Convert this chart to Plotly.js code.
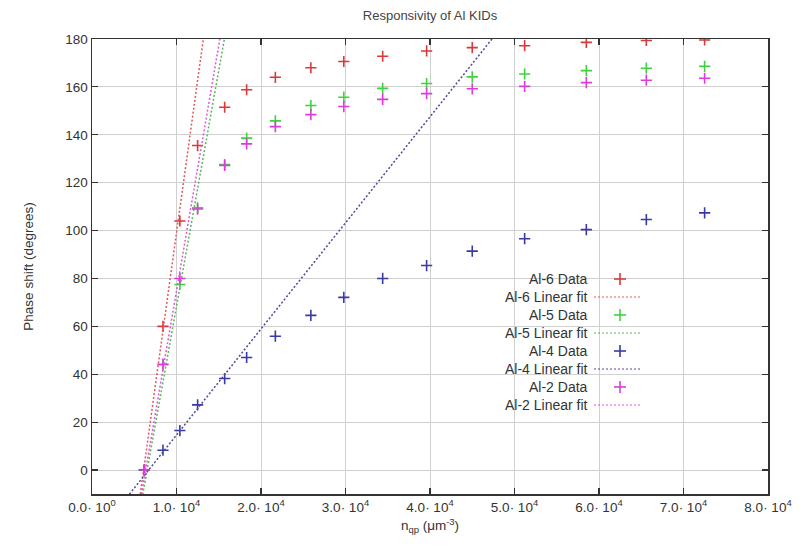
<!DOCTYPE html>
<html>
<head>
<meta charset="utf-8">
<script src="https://cdn.plot.ly/plotly-3.0.1.min.js"></script>
<style>
  html, body { margin: 0; padding: 0; background: #fff; }
  #chart { width: 805px; height: 545px; }
</style>
</head>
<body>
<div id="chart"></div>
<script>
// Quasiparticle density (um^-3) for each measured point
const nqp = [6200, 8400, 10400, 12500, 15700, 18300, 21700, 25900, 29800, 34400, 39600, 45000, 51200, 58500, 65600, 72500];

// Measured phase shift (degrees) per resonator
const al6 = [0, 60, 104, 135.5, 151.5, 158.8, 164, 168, 170.6, 172.8, 175, 176.4, 177.2, 178.6, 179.4, 179.6];
const al5 = [0, 44, 77.5, 109.5, 127.6, 138.6, 145.8, 152.2, 155.7, 159.4, 161.4, 164.2, 165.4, 166.8, 167.8, 168.6];
const al4 = [0, 8.3, 16.5, 27.2, 38.2, 47, 55.9, 64.6, 72.1, 80, 85.4, 91.4, 96.6, 100.4, 104.6, 107.4];
const al2 = [0, 44.2, 80, 109, 127.2, 136.2, 143.4, 148.4, 151.8, 154.8, 157.2, 159.2, 160.2, 161.8, 162.8, 163.6];

// Linear fits: phase = slope * (nqp - zeroCrossing)
const fitSlope = { al6: 0.02547, al5: 0.0197, al4: 0.00443, al2: 0.0205 };
const fitZero  = { al6: 6110,    al5: 6530,   al4: 6700,    al2: 6350 };

// Axis ticks
const xTickVals = [0, 10000, 20000, 30000, 40000, 50000, 60000, 70000, 80000];
const xTickText = ['0.0· 10<sup>0</sup>', '1.0· 10<sup>4</sup>', '2.0· 10<sup>4</sup>', '3.0· 10<sup>4</sup>',
                   '4.0· 10<sup>4</sup>', '5.0· 10<sup>4</sup>', '6.0· 10<sup>4</sup>', '7.0· 10<sup>4</sup>',
                   '8.0· 10<sup>4</sup>'];
const yTickVals = [0, 20, 40, 60, 80, 100, 120, 140, 160, 180];

const seriesNames = ['Al-6', 'Al-5', 'Al-4', 'Al-2'];
const seriesData  = [al6, al5, al4, al2];
const seriesKeys  = ['al6', 'al5', 'al4', 'al2'];
const pointColors = ['#d8393b', '#3fd23f', '#3a3aa6', '#dc3cdc'];
const fitColors   = ['#e0585c', '#58b858', '#4a4a9a', '#dc58dc'];

const xEnds = [0, 80000];
const traces = [];
seriesNames.forEach((name, i) => {
  traces.push({
    type: 'scatter', mode: 'markers', name: name + ' Data',
    x: nqp, y: seriesData[i], showlegend: false,
    marker: { symbol: 'cross-thin-open', size: 8, color: pointColors[i],
              line: { color: pointColors[i], width: 1.6 } }
  });
  const k = seriesKeys[i];
  traces.push({
    type: 'scatter', mode: 'lines', name: name + ' Linear fit',
    x: xEnds, y: xEnds.map(v => fitSlope[k] * (v - fitZero[k])), showlegend: false,
    line: { color: fitColors[i], width: 1.5, dash: '2px,2px' }
  });
});

// Key box drawn in plot-pixel terms, converted to paper fractions
const L = 92, T = 39, W = 676, H = 455;
const px = v => (v - L) / W;
const py = v => (T + H - v) / H;

const shapes = [{
  type: 'rect', xref: 'paper', yref: 'paper', layer: 'between',
  x0: px(453), x1: px(648), y0: py(416), y1: py(268),
  fillcolor: '#ffffff', line: { width: 0 }
}];
const annotations = [];
const keyLabels = [];
seriesNames.forEach(n => { keyLabels.push(n + ' Data'); keyLabels.push(n + ' Linear fit'); });
keyLabels.forEach((lab, j) => {
  const yc = 279 + j * 18;
  const s = Math.floor(j / 2);
  annotations.push({
    xref: 'paper', yref: 'paper', x: px(590), y: py(yc), xanchor: 'right', yanchor: 'middle',
    text: lab, showarrow: false, font: { family: 'Liberation Sans, Arial, sans-serif', size: 14, color: '#333' }
  });
  if (j % 2 === 0) {
    shapes.push({ type: 'line', xref: 'paper', yref: 'paper', x0: px(614), x1: px(626), y0: py(yc), y1: py(yc),
                  line: { color: pointColors[s], width: 1.6 } });
    shapes.push({ type: 'line', xref: 'paper', yref: 'paper', x0: px(620), x1: px(620), y0: py(yc - 6), y1: py(yc + 6),
                  line: { color: pointColors[s], width: 1.6 } });
  } else {
    shapes.push({ type: 'line', xref: 'paper', yref: 'paper', x0: px(594), x1: px(641), y0: py(yc), y1: py(yc),
                  line: { color: fitColors[s], width: 1.2, dash: '2px,2px' } });
  }
});

const font = { family: 'Liberation Sans, Arial, sans-serif', size: 13.5, color: '#333' };
const layout = {
  width: 805, height: 545,
  margin: { l: L, r: 805 - L - W, t: T, b: 545 - T - H },
  paper_bgcolor: '#fff', plot_bgcolor: '#fff',
  font: font,
  showlegend: false,
  title: { text: 'Responsivity of Al KIDs', x: px(430), xref: 'paper', y: 1 - 15 / 545, yanchor: 'middle',
           font: { family: font.family, size: 13, color: '#444' } },
  xaxis: {
    range: [0, 80000], tickmode: 'array', tickvals: xTickVals, ticktext: xTickText,
    showgrid: true, gridcolor: '#d0d0d0', gridwidth: 1, zeroline: false,
    showline: true, linecolor: '#333', linewidth: 1.5, mirror: 'ticks',
    ticks: 'inside', ticklen: 6, tickcolor: '#333', tickwidth: 1.2,
    tickfont: font,
    title: { text: 'n<sub>qp</sub> (μm<sup>-3</sup>)', font: font, standoff: 7 }
  },
  yaxis: {
    range: [-10, 180], tickmode: 'array', tickvals: yTickVals,
    showgrid: true, gridcolor: '#d0d0d0', gridwidth: 1, zeroline: false,
    showline: true, linecolor: '#333', linewidth: 1.5, mirror: 'ticks',
    ticks: 'inside', ticklen: 6, tickcolor: '#333', tickwidth: 1.2,
    tickfont: font,
    title: { text: 'Phase shift (degrees)', font: font, standoff: 28 }
  },
  shapes: shapes,
  annotations: annotations
};

Plotly.newPlot('chart', traces, layout, { staticPlot: true, displayModeBar: false });
</script>
</body>
</html>
